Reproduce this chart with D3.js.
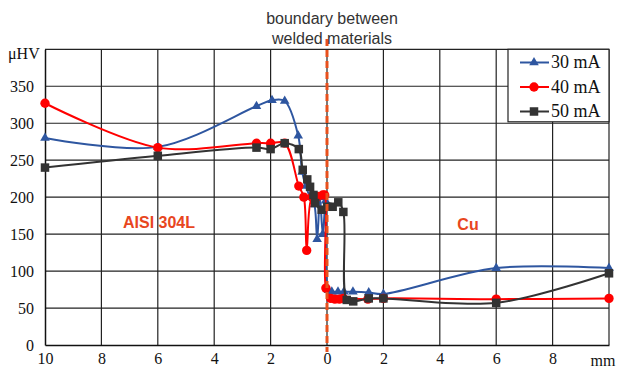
<!DOCTYPE html>
<html>
<head>
<meta charset="utf-8">
<script src="https://cdn.jsdelivr.net/npm/d3@7"></script>
<style>
  body { margin: 0; background: #fff; }
  svg { display: block; }
</style>
</head>
<body>
<svg id="chart" width="617" height="371"></svg>
<script>
// distance from the boundary, mm (negative = AISI 304L side)
const blueX = [-10, -6, -2.5, -1.95, -1.5, -1.02, -0.88, -0.75, -0.6, -0.45, -0.35, -0.25, -0.15, -0.05, 0.05, 0.17, 0.39, 0.6, 0.92, 1.48, 2, 6, 10]
const blueY = [280, 268, 323, 331, 330, 283, 234, 215, 200, 190, 143, 200, 150, 195, 74, 72, 72, 72, 72, 71, 69, 104, 104]

const redX = [-10, -6, -2.5, -2, -1.5, -1.0, -0.82, -0.72, -0.53, -0.32, -0.15, -0.08, -0.04, 0.13, 0.28, 0.44, 0.58, 1.45, 2, 6, 10]
const redY = [327, 267, 273, 273, 273, 215, 200, 128, 200, 201, 203, 203, 77, 63, 62, 62, 63, 62, 63, 62, 63]

const blackX = [-10, -6, -2.5, -2, -1.5, -1.0, -0.86, -0.7, -0.6, -0.48, -0.42, -0.19, 0.01, 0.2, 0.4, 0.58, 0.7, 0.93, 1.48, 2, 6, 10]
const blackY = [240, 256, 267, 265, 273, 265, 237, 224, 214, 203, 192, 183, 187, 187, 193, 180, 61, 59, 63, 63, 57, 97]

const xTicks = [-10, -8, -6, -4, -2, 0, 2, 4, 6, 8]
const yTicks = [0, 50, 100, 150, 200, 250, 300, 350]

const series = [
    {name: '30 mA', xs: blueX, ys: blueY, color: '#2e56a0', marker: 'triangle'},
    {name: '40 mA', xs: redX, ys: redY, color: '#ff0000', marker: 'circle'},
    {name: '50 mA', xs: blackX, ys: blackY, color: '#333333', marker: 'square'}
]

const svg = d3.select('#chart')
const x = d3.scaleLinear().domain([-10, 10]).range([45, 609])
const y = d3.scaleLinear().domain([0, 400]).range([345, 49.3])
const serif = '"Liberation Serif", "Times New Roman", serif'
const sans = '"Liberation Sans", Arial, sans-serif'

// grid
const grid = svg.append('g').attr('stroke', '#222').attr('stroke-width', 1.2)
grid.selectAll('line.v')
    .data(d3.range(-8, 11, 2))
    .enter().append('line')
    .attr('x1', d => x(d)).attr('x2', d => x(d))
    .attr('y1', y(400)).attr('y2', y(0))
grid.selectAll('line.h')
    .data(d3.range(50, 401, 50))
    .enter().append('line')
    .attr('x1', x(-10)).attr('x2', x(10))
    .attr('y1', d => y(d)).attr('y2', d => y(d))

// axes
const xAxis = svg.append('g')
    .attr('transform', `translate(0,${y(0)})`)
    .call(d3.axisBottom(x).tickValues(xTicks).tickSize(0).tickPadding(8).tickFormat(d => Math.abs(d)))
xAxis.select('.domain').attr('stroke', '#111').attr('stroke-width', 1.5)
xAxis.selectAll('text').style('font-family', serif).style('font-size', '16px').attr('fill', '#111')

const yAxis = svg.append('g')
    .attr('transform', `translate(${x(-10)},0)`)
    .call(d3.axisLeft(y).tickValues(yTicks).tickSize(0).tickPadding(11))
yAxis.select('.domain').attr('stroke', '#111').attr('stroke-width', 1.5)
yAxis.selectAll('text').style('font-family', serif).style('font-size', '16px').attr('fill', '#111')

svg.append('text').text('mm')
    .attr('x', 603).attr('y', 366).attr('text-anchor', 'middle')
    .style('font-family', serif).style('font-size', '16px').attr('fill', '#111')
svg.append('text').text('μHV')
    .attr('x', 8).attr('y', 59)
    .style('font-family', serif).style('font-size', '16px').attr('fill', '#111')

// series lines
const line = d3.line()
    .x(d => x(d[0])).y(d => y(d[1]))
    .curve(d3.curveCatmullRom.alpha(0.5))

function drawMarker(g, type, color, size) {
    if (type === 'circle') {
        g.append('circle').attr('r', size * 0.55).attr('fill', color)
    } else if (type === 'square') {
        g.append('rect').attr('x', -size / 2).attr('y', -size / 2)
            .attr('width', size).attr('height', size).attr('fill', color)
    } else {
        g.append('path').attr('d', d3.symbol(d3.symbolTriangle, size * size * 0.55)()).attr('fill', color)
    }
}

series.forEach(s => {
    const pts = s.xs.map((v, i) => [v, s.ys[i]])
    svg.append('path')
        .datum(pts)
        .attr('d', line)
        .attr('fill', 'none')
        .attr('stroke', s.color)
        .attr('stroke-width', 2)
    svg.selectAll(null)
        .data(pts)
        .enter().append('g')
        .attr('transform', d => `translate(${x(d[0])},${y(d[1])})`)
        .each(function() { drawMarker(d3.select(this), s.marker, s.color, 8.5) })
})

// boundary line
svg.append('line')
    .attr('x1', x(0)).attr('x2', x(0))
    .attr('y1', 39).attr('y2', 352)
    .attr('stroke', '#e8501c').attr('stroke-width', 3)
    .attr('stroke-dasharray', '7,4')

svg.append('text').text('boundary between')
    .attr('x', 332).attr('y', 24).attr('text-anchor', 'middle')
    .style('font-family', sans).style('font-size', '16px').attr('fill', '#333')
svg.append('text').text('welded materials')
    .attr('x', 332).attr('y', 44).attr('text-anchor', 'middle')
    .style('font-family', sans).style('font-size', '16px').attr('fill', '#333')

svg.append('text').text('AISI 304L')
    .attr('x', 159).attr('y', 228).attr('text-anchor', 'middle')
    .style('font-family', sans).style('font-weight', 'bold').style('font-size', '16px').attr('fill', '#e8461e')
svg.append('text').text('Cu')
    .attr('x', 468).attr('y', 230).attr('text-anchor', 'middle')
    .style('font-family', sans).style('font-weight', 'bold').style('font-size', '16px').attr('fill', '#e8461e')

// legend
const legend = svg.append('g')
legend.append('rect')
    .attr('x', 508).attr('y', 49.3).attr('width', 101).attr('height', 72.5)
    .attr('fill', '#fff').attr('stroke', '#222').attr('stroke-width', 1.2)
series.forEach((s, i) => {
    const ly = 62.5 + i * 24.5
    legend.append('line')
        .attr('x1', 520).attr('x2', 549).attr('y1', ly).attr('y2', ly)
        .attr('stroke', s.color).attr('stroke-width', 2)
    const m = legend.append('g').attr('transform', `translate(534,${ly})`)
    drawMarker(m, s.marker, s.color, 8.5)
    legend.append('text').text(s.name)
        .attr('x', 551).attr('y', ly + 5.5)
        .style('font-family', serif).style('font-size', '18px').attr('fill', '#111')
})
</script>
</body>
</html>
